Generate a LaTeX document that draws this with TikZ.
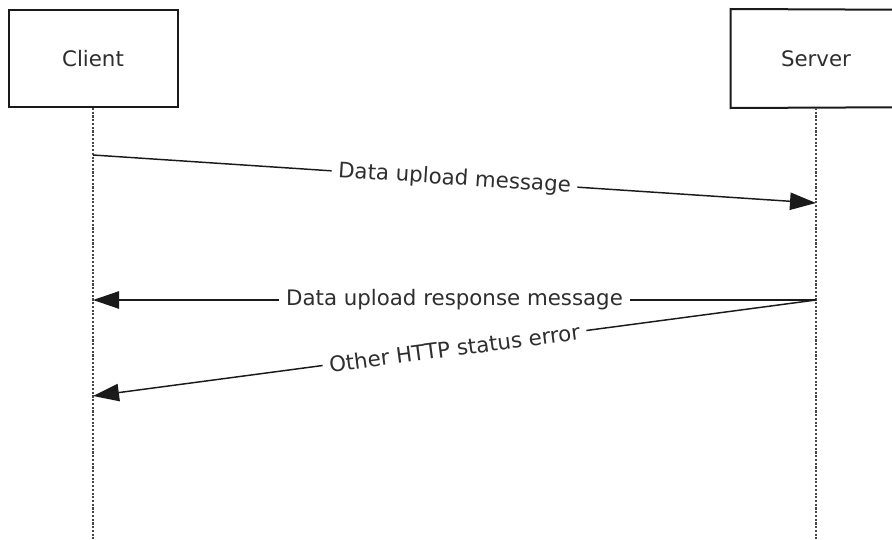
\documentclass[tikz,border=0pt]{standalone}
\usepackage{fontspec}
\setmainfont{DejaVu Sans}
\usetikzlibrary{arrows.meta}
\definecolor{txt}{HTML}{2E2E2E}
\definecolor{ln}{HTML}{1A1A1A}
\tikzset{
  actor/.style={draw=ln, line width=1.5pt, fill=white, minimum width=126.75pt, minimum height=72.75pt, inner sep=0pt, text=txt, font=\fontsize{16}{19}\selectfont},
  openbox/.style={draw=ln, line width=1.5pt},
  lifeline/.style={draw=ln!80, line width=1pt, dash pattern=on 1.6pt off 1.2pt},
  msg/.style={draw=ln, line width=1.1pt, -{Triangle[length=19.5pt,width=13pt]}},
  lbl/.style={fill=white, text=txt, inner xsep=5pt, inner ysep=1pt, font=\fontsize{16}{19}\selectfont}
}
\begin{document}
\begin{tikzpicture}[x=0.75pt,y=-0.75pt]
\useasboundingbox (0,0) rectangle (892,539);
\clip (0,0) rectangle (892,539);
\node[actor] (client) at (93,58.5) {Client};
\node[actor, draw=none, fill=none] (server) at (816,58.5) {Server};
\coordinate (stopr) at (960,10);
\coordinate (sbotr) at (960,107);
\draw[openbox] (stopr) -- (server.north west) -- (server.south west) -- (sbotr);
\coordinate (cbot) at (93,545);
\coordinate (sbot) at (816,545);
\draw[lifeline] (client.south) -- (cbot);
\draw[lifeline] (server.south) -- (sbot);
\coordinate (c1) at (93,155);
\coordinate (s1) at (816,203);
\coordinate (s2) at (816,300);
\coordinate (c2) at (93,300);
\coordinate (c3) at (93,396);
\draw[msg] (c1) -- node[lbl, sloped] {Data upload message} (s1);
\draw[msg] (s2) -- node[lbl] {Data upload response message} (c2);
\draw[msg] (s2) -- node[lbl, sloped] {Other HTTP status error} (c3);
\end{tikzpicture}
\end{document}
